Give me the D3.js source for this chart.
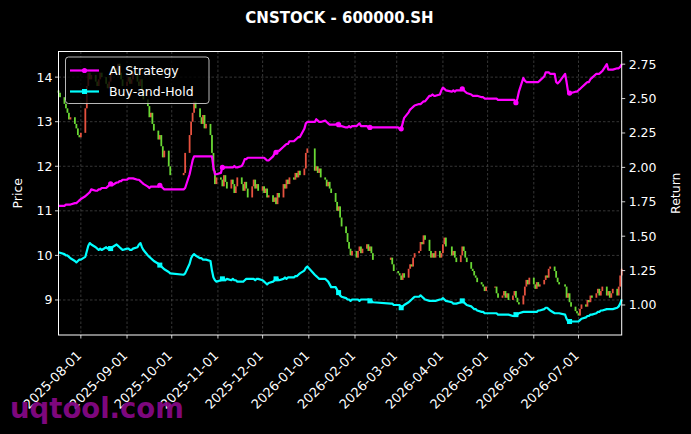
<!DOCTYPE html>
<html><head><meta charset="utf-8">
<script src="https://cdn.jsdelivr.net/npm/d3@7"></script>
<style>
html,body{margin:0;padding:0;background:#000;}
svg{display:block;font-family:"DejaVu Sans",sans-serif;}
</style></head>
<body><svg id="c" width="691" height="434"></svg>
<script>
// ---------- DATA ----------
const title = "CNSTOCK - 600000.SH";
const seriesNames = ["AI Strategy", "Buy-and-Hold"];
const startDate = "2025-07-17", endDate = "2026-07-30";
const holidays = [["2025-10-01","2025-10-08"],["2026-01-01","2026-01-02"],["2026-02-16","2026-02-24"],
                  ["2026-04-06","2026-04-06"],["2026-05-01","2026-05-05"],["2026-06-19","2026-06-19"]];
const firstOpen = 13.7;
const closes = [
 13.65,13.55,13.4,13.3,13.2,13.05,13.1,12.95,12.85,12.7,12.65,
 12.75,13.3,13.8,14.1,13.95,14.05,13.9,13.8,13.95,14.1,14.0,13.85,13.75,13.9,14.05,14.2,14.15,14.3,14.1,13.95,13.8,
 13.9,14.0,13.85,13.95,14.1,13.9,13.8,13.95,13.7,13.5,13.35,13.1,13.2,12.95,12.8,12.6,12.7,12.45,12.2,12.35,12.0,11.8,
 11.85,12.3,12.7,13.0,13.2,13.45,13.3,13.1,12.95,13.15,12.85,12.95,12.7,12.3,11.9,11.6,11.75,
 11.7,11.55,11.8,11.65,11.5,11.7,11.6,11.4,11.55,11.75,11.6,11.45,11.65,11.5,11.3,11.55,11.7,11.5,11.6,11.45,
 11.55,11.4,11.5,11.3,11.35,11.2,11.3,11.15,11.4,11.3,11.6,11.5,11.7,11.6,11.75,11.7,11.85,11.75,11.9,11.8,11.95,12.3,12.4,
 11.9,12.0,11.85,11.95,11.75,11.7,11.55,11.65,11.5,11.4,11.2,11.0,11.1,10.85,10.65,10.5,10.3,10.15,10.0,10.1,
 9.95,10.1,10.2,10.05,10.15,10.25,10.1,10.2,10.05,9.9,9.95,9.8,9.65,
 9.6,9.55,9.45,9.6,9.5,9.7,9.8,9.75,9.95,10.05,10.1,10.3,10.25,10.45,10.35,10.1,9.95,10.05,9.95,10.1,9.95,10.05,
 10.25,10.4,10.2,10.0,10.1,9.95,9.85,10.0,10.2,10.1,9.95,9.85,9.7,9.65,9.55,9.5,9.4,9.35,9.3,9.2,9.3,
 9.3,9.15,9.05,9.1,9.2,9.05,9.15,9.0,9.1,9.2,9.05,8.95,8.9,9.1,9.3,9.45,9.35,9.5,
 9.35,9.25,9.4,9.3,9.35,9.45,9.55,9.5,9.7,9.75,9.65,9.5,9.4,9.35,9.3,9.05,9.15,8.95,8.85,8.75,8.7,
 8.65,8.8,8.9,8.85,9.0,8.95,9.1,9.05,9.15,9.25,9.1,9.2,9.3,9.1,9.2,9.05,9.15,9.25,9.1,9.3,9.55,9.7
];
const aiStrategy = [
 1.72,1.72,1.72,1.73,1.73,1.73,1.73,1.74,1.74,1.75,1.76,
 1.77,1.79,1.80,1.81,1.82,1.84,1.83,1.83,1.84,1.84,1.85,1.85,1.86,1.87,1.88,1.87,1.89,1.89,1.90,1.90,1.91,
 1.91,1.92,1.92,1.92,1.92,1.91,1.91,1.90,1.89,1.88,1.86,1.85,1.86,1.86,1.86,1.86,1.87,1.86,1.85,1.84,1.84,1.84,
 1.84,1.85,1.95,2.0,2.05,2.08,2.08,2.08,2.08,2.08,2.08,2.08,2.08,2.08,2.0,1.95,1.95,
 1.96,2.0,2.0,2.0,2.0,2.0,2.0,2.01,2.0,2.0,2.01,2.03,2.06,2.06,2.07,2.07,2.07,2.07,2.07,2.07,
 2.07,2.07,2.06,2.05,2.05,2.08,2.10,2.11,2.12,2.12,2.15,2.16,2.17,2.17,2.19,2.19,2.20,2.21,2.22,2.22,2.28,2.32,2.33,
 2.33,2.35,2.34,2.33,2.33,2.34,2.33,2.32,2.31,2.31,2.31,2.32,2.31,2.30,2.30,2.29,2.29,2.30,2.29,2.30,
 2.30,2.31,2.32,2.30,2.30,2.30,2.29,2.29,2.29,2.29,2.29,2.29,2.29,
 2.29,2.28,2.28,2.32,2.36,2.40,2.42,2.43,2.44,2.45,2.46,2.46,2.47,2.48,2.48,2.52,2.52,2.53,2.52,2.52,2.53,2.56,
 2.58,2.57,2.56,2.55,2.56,2.55,2.56,2.56,2.57,2.56,2.55,2.54,2.53,2.52,2.52,2.52,2.52,2.51,2.51,2.50,2.50,
 2.50,2.50,2.49,2.49,2.49,2.49,2.49,2.49,2.49,2.49,2.47,2.50,2.55,2.65,2.63,2.62,2.62,2.62,
 2.62,2.62,2.62,2.62,2.63,2.66,2.69,2.69,2.69,2.68,2.68,2.62,2.61,2.62,2.68,2.62,2.55,2.54,2.54,2.55,2.55,
 2.56,2.57,2.58,2.61,2.62,2.62,2.64,2.65,2.68,2.68,2.68,2.69,2.70,2.75,2.71,2.71,2.71,2.71,2.72,2.72,2.73,2.75
];
const buyHold = [
 1.38,1.38,1.37,1.36,1.36,1.35,1.34,1.32,1.31,1.32,1.33,
 1.33,1.35,1.39,1.43,1.45,1.44,1.42,1.41,1.40,1.41,1.40,1.42,1.41,1.42,1.41,1.42,1.44,1.43,1.42,1.41,1.40,
 1.41,1.41,1.40,1.40,1.41,1.42,1.44,1.45,1.42,1.40,1.36,1.35,1.34,1.33,1.32,1.30,1.29,1.28,1.27,1.26,1.24,1.23,
 1.22,1.23,1.30,1.34,1.36,1.37,1.36,1.34,1.34,1.33,1.33,1.33,1.32,1.25,1.20,1.18,1.17,
 1.18,1.19,1.19,1.18,1.19,1.18,1.19,1.18,1.18,1.17,1.17,1.17,1.18,1.19,1.19,1.19,1.19,1.18,1.19,1.19,
 1.18,1.17,1.16,1.15,1.16,1.17,1.18,1.19,1.19,1.18,1.19,1.20,1.19,1.20,1.20,1.20,1.21,1.21,1.22,1.23,1.25,1.27,1.28,
 1.22,1.21,1.20,1.19,1.19,1.19,1.18,1.17,1.15,1.13,1.13,1.11,1.09,1.07,1.06,1.05,1.04,1.04,1.03,1.04,
 1.04,1.04,1.03,1.04,1.04,1.04,1.04,1.03,1.03,1.02,1.01,1.01,1.00,
 1.00,1.00,0.98,0.99,1.00,1.02,1.03,1.04,1.05,1.06,1.06,1.07,1.06,1.05,1.04,1.03,1.03,1.03,1.03,1.03,1.04,1.04,
 1.05,1.04,1.03,1.02,1.01,1.01,1.01,1.02,1.03,1.02,1.01,1.00,0.99,0.98,0.97,0.97,0.96,0.95,0.95,0.94,0.94,
 0.94,0.94,0.93,0.93,0.93,0.93,0.93,0.93,0.92,0.92,0.93,0.93,0.94,0.95,0.95,0.95,0.95,0.95,
 0.95,0.95,0.95,0.96,0.96,0.97,0.98,0.98,0.97,0.96,0.94,0.94,0.94,0.94,0.93,0.90,0.88,0.88,0.88,0.88,0.88,
 0.88,0.89,0.90,0.91,0.92,0.92,0.93,0.93,0.94,0.95,0.95,0.96,0.96,0.97,0.97,0.97,0.97,0.97,0.98,0.99,1.01,1.04
];
const markerDates = ["2025-08-21","2025-09-23","2025-11-04","2025-12-10","2026-01-21","2026-02-11","2026-03-04","2026-04-14","2026-05-20","2026-06-25"];
const priceTicks = [9,10,11,12,13,14];
const returnTicks = [1.00,1.25,1.50,1.75,2.00,2.25,2.50,2.75];
const monthTicks = ["2025-08-01","2025-09-01","2025-10-01","2025-11-01","2025-12-01","2026-01-01",
                    "2026-02-01","2026-03-01","2026-04-01","2026-05-01","2026-06-01","2026-07-01"];
const priceDomain = [8.214, 14.575];
const returnDomain = [0.782, 2.842];
const watermark = "uqtool.com";

// ---------- BUILD ----------
const P = d3.utcParse("%Y-%m-%d");
const hol = new Set();
holidays.forEach(([a,b]) => d3.utcDay.range(P(a), d3.utcDay.offset(P(b),1)).forEach(d => hol.add(+d)));
const dates = d3.utcDay.range(P(startDate), d3.utcDay.offset(P(endDate),1))
  .filter(d => d.getUTCDay() !== 0 && d.getUTCDay() !== 6 && !hol.has(+d));
const rows = dates.map((d,i) => ({d, o: i ? closes[i-1] : firstOpen, c: closes[i], ai: aiStrategy[i], bh: buyHold[i]}))
  .filter(r => r.c !== undefined);

const L = 58.5, R = 621.7, T = 51.5, B = 335;
const svg = d3.select("#c");
svg.append("rect").attr("width",691).attr("height",434).attr("fill","#000");

const x = d3.scaleUtc().domain([P(startDate), P(endDate)]).range([L, R]);
const yP = d3.scaleLinear().domain(priceDomain).range([B, T]);
const yR = d3.scaleLinear().domain(returnDomain).range([B, T]);

// grid
const g = svg.append("g");
monthTicks.forEach(t => g.append("line").attr("x1",x(P(t))).attr("x2",x(P(t))).attr("y1",T).attr("y2",B)
  .attr("stroke","#5a5a5a").attr("stroke-width",0.6).attr("stroke-dasharray","2.5,2"));
priceTicks.forEach(t => g.append("line").attr("x1",L).attr("x2",R).attr("y1",yP(t)).attr("y2",yP(t))
  .attr("stroke","#5a5a5a").attr("stroke-width",0.6).attr("stroke-dasharray","2.5,2"));

// candles
const cg = svg.append("g");
rows.forEach(r => {
  const up = r.c >= r.o;
  const y1 = yP(Math.max(r.o, r.c)), y2 = yP(Math.min(r.o, r.c));
  cg.append("rect").attr("x", x(r.d) - 0.9).attr("width", 1.8)
    .attr("y", y1).attr("height", Math.max(1, y2 - y1))
    .attr("fill", up ? "#ff5a46" : "#74f03a").attr("opacity", 0.9);
});

// lines
const lineAI = d3.line().x(r => x(r.d)).y(r => yR(r.ai));
const lineBH = d3.line().x(r => x(r.d)).y(r => yR(r.bh));
svg.append("path").datum(rows).attr("d", lineBH).attr("fill","none").attr("stroke","#00ffff").attr("stroke-width",2.2).attr("stroke-linejoin","round");
svg.append("path").datum(rows).attr("d", lineAI).attr("fill","none").attr("stroke","#ff00ff").attr("stroke-width",2.2).attr("stroke-linejoin","round");
const mset = new Set(markerDates.map(s => +P(s)));
rows.filter(r => mset.has(+r.d)).forEach(r => {
  svg.append("circle").attr("cx", x(r.d)).attr("cy", yR(r.ai)).attr("r", 2.6).attr("fill","#ff00ff");
  svg.append("rect").attr("x", x(r.d)-2.5).attr("y", yR(r.bh)-2.5).attr("width",5).attr("height",5).attr("fill","#00ffff");
});

// axes
const fmtR = d3.format(".2f");
const ax = svg.append("g").attr("fill","#fff").attr("font-size","12.5px");
priceTicks.forEach(t => {
  ax.append("line").attr("x1",L-3.5).attr("x2",L).attr("y1",yP(t)).attr("y2",yP(t)).attr("stroke","#fff").attr("stroke-width",0.8);
  ax.append("text").attr("x",L-6).attr("y",yP(t)).attr("dy","0.36em").attr("text-anchor","end").text(t);
});
returnTicks.forEach(t => {
  ax.append("line").attr("x1",R).attr("x2",R+3.5).attr("y1",yR(t)).attr("y2",yR(t)).attr("stroke","#fff").attr("stroke-width",0.8);
  ax.append("text").attr("x",R+7).attr("y",yR(t)).attr("dy","0.36em").attr("text-anchor","start").text(fmtR(t));
});
const fmtD = d3.utcFormat("%Y-%m-%d");
monthTicks.forEach(t => {
  const xx = x(P(t));
  ax.append("line").attr("x1",xx).attr("x2",xx).attr("y1",B).attr("y2",B+3.5).attr("stroke","#fff").attr("stroke-width",0.8);
  ax.append("text").attr("transform",`translate(${xx-5},${B+15}) rotate(-45)`).attr("text-anchor","end")
    .attr("font-size","13px").attr("dy","0.7em").text(fmtD(P(t)));
});
svg.append("rect").attr("x",L).attr("y",T).attr("width",R-L).attr("height",B-T)
  .attr("fill","none").attr("stroke","#fff").attr("stroke-width",1);

ax.append("text").attr("transform",`translate(22,${(T+B)/2}) rotate(-90)`).attr("text-anchor","middle").text("Price");
ax.append("text").attr("transform",`translate(680,${(T+B)/2}) rotate(-90)`).attr("text-anchor","middle").text("Return");

svg.append("text").attr("x",339.5).attr("y",23).attr("text-anchor","middle").attr("fill","#fff")
  .attr("font-weight","bold").attr("font-size","15px").text(title);

// legend
const lg = svg.append("g");
lg.append("rect").attr("x",65.5).attr("y",57).attr("width",143.5).attr("height",46.5).attr("rx",3)
  .attr("fill","#000").attr("fill-opacity",0.8).attr("stroke","#cccccc").attr("stroke-opacity",0.9).attr("stroke-width",1);
[["#ff00ff",70.5,"c"],["#00ffff",91.5,"s"]].forEach(([col,yy,m],i) => {
  lg.append("line").attr("x1",70).attr("x2",99).attr("y1",yy).attr("y2",yy).attr("stroke",col).attr("stroke-width",2.2);
  if (m === "c") lg.append("circle").attr("cx",84.5).attr("cy",yy).attr("r",2.6).attr("fill",col);
  else lg.append("rect").attr("x",82).attr("y",yy-2.5).attr("width",5).attr("height",5).attr("fill",col);
  lg.append("text").attr("x",109).attr("y",yy).attr("dy","0.36em").attr("fill","#fff").attr("font-size","12.5px").text(seriesNames[i]);
});

// watermark
svg.append("text").attr("x",10).attr("y",418).attr("fill","#860886").attr("fill-opacity",0.95)
  .attr("font-weight","bold").attr("font-size","27.5px").text(watermark);
</script></body></html>
